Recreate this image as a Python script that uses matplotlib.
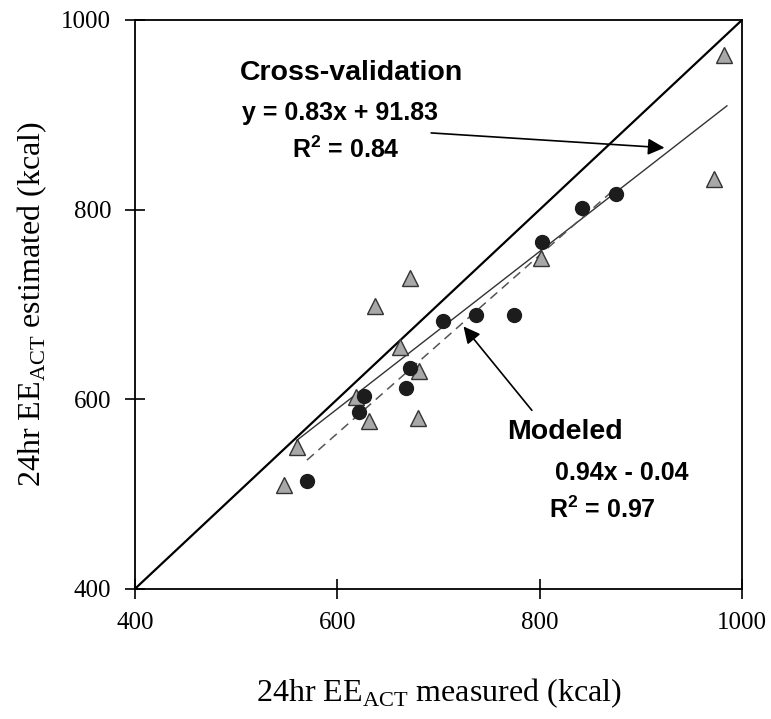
import matplotlib
matplotlib.use('Agg')
import matplotlib.pyplot as plt

# modeled values (filled circles)
modeled_x = [570, 621, 626, 668, 672, 704, 737, 775, 802, 842, 875]
modeled_y = [514, 586, 603, 612, 633, 682, 689, 689, 766, 802, 816]

# cross-validation values (grey triangles)
cv_x = [547, 560, 618, 631, 637, 662, 672, 681, 680, 801, 972, 982]
cv_y = [510, 550, 602, 577, 698, 655, 728, 630, 580, 749, 832, 963]

# regression lines
cv_slope, cv_icpt = 0.83, 91.83
cv_range = [560, 985]
mod_slope, mod_icpt = 0.94, -0.04
mod_range = [570, 875]

ticks = [400, 600, 800, 1000]

matplotlib.rcParams['font.family'] = ['Liberation Serif']
matplotlib.rcParams['mathtext.fontset'] = 'custom'
matplotlib.rcParams['mathtext.rm'] = 'Liberation Serif'
matplotlib.rcParams['mathtext.bf'] = 'Liberation Sans:bold'

fig = plt.figure(figsize=(7.71, 7.19), dpi=100)
ax = fig.add_axes([0.175, 0.181, 0.7875, 0.7913])

ax.plot([400, 1000], [400, 1000], color='black', lw=1.6, zorder=2)
ax.plot(cv_range, [cv_slope * v + cv_icpt for v in cv_range],
        color='#333333', lw=1.0, zorder=2)
ax.plot(mod_range, [mod_slope * v + mod_icpt for v in mod_range],
        color='#555555', lw=1.1, ls=(0, (6, 4)), zorder=2)

ax.plot(cv_x, cv_y, ls='none', marker='^', ms=11, mfc='#a8a8a8',
        mec='#333333', mew=1.0, zorder=3)
ax.plot(modeled_x, modeled_y, ls='none', marker='o', ms=10, mfc='#1c1c1c',
        mec='#1c1c1c', zorder=4)

sans = ['Liberation Sans', 'DejaVu Sans']
ax.text(504, 944, 'Cross-validation', fontsize=20.5, fontweight='bold',
        family=sans, va='center', ha='left')
ax.text(506, 902, 'y = 0.83x + 91.83', fontsize=18, fontweight='bold',
        family=sans, va='center', ha='left')
ax.text(555, 863, 'R$^{\\mathbf{2}}$ = 0.84', fontsize=18, fontweight='bold',
        family=sans, va='center', ha='left')
ax.text(768, 565, 'Modeled', fontsize=20.5, fontweight='bold',
        family=sans, va='center', ha='left')
ax.text(815, 522, '0.94x - 0.04', fontsize=18, fontweight='bold',
        family=sans, va='center', ha='left')
ax.text(809, 483, 'R$^{\\mathbf{2}}$ = 0.97', fontsize=18, fontweight='bold',
        family=sans, va='center', ha='left')

ax.annotate('', xy=(926, 865), xytext=(690, 881),
            arrowprops=dict(arrowstyle='-|>', color='black', lw=1.2,
                            mutation_scale=25))
ax.annotate('', xy=(723, 679), xytext=(794, 586),
            arrowprops=dict(arrowstyle='-|>', color='black', lw=1.2,
                            mutation_scale=25))

ax.set_xlim(400, 1000)
ax.set_ylim(400, 1000)
ax.set_xticks(ticks)
ax.set_yticks(ticks)
ax.tick_params(direction='inout', length=14, width=1.2, labelsize=18, pad=10)
for s in ax.spines.values():
    s.set_linewidth(1.3)

ax.set_xlabel('24hr EE$_{\\mathrm{ACT}}$ measured (kcal)', fontsize=23, labelpad=30)
ax.set_ylabel('24hr EE$_{\\mathrm{ACT}}$ estimated (kcal)', fontsize=23, labelpad=9)

fig.savefig('out.png', dpi=100)
